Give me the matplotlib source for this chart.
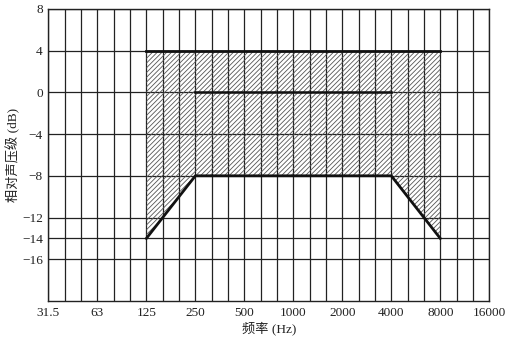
import numpy as np
import matplotlib
matplotlib.use('agg')
import matplotlib.pyplot as plt

plt.rcParams['font.family'] = ['Liberation Serif', 'Noto Sans CJK SC', 'DejaVu Sans']
plt.rcParams['hatch.linewidth'] = 0.6
plt.rcParams['axes.unicode_minus'] = True

# octave band labels (Hz)
freq_labels = ['31.5', '63', '125', '250', '500', '1000', '2000', '4000', '8000', '16000']
db_ticks = [8, 4, 0, -4, -8, -12, -14, -16]

# tolerance band, in octave index (0 = 31.5 Hz)
upper_oct = [2, 8]
upper_db = [4, 4]
lower_oct = [2, 3, 7, 8]
lower_db = [-14, -8, -8, -14]
ref_oct = [3, 7]
ref_db = [0, 0]

fig = plt.figure(figsize=(5.15, 3.39), dpi=100)
ax = fig.add_axes([0.094, 0.112, 0.856, 0.862])

# third-octave grid
for v in np.arange(0, 9 + 1e-9, 1 / 3):
    ax.axvline(v, color='#222222', lw=0.9, zorder=1)
for h in db_ticks:
    ax.axhline(h, color='#222222', lw=0.9, zorder=1)

xs = np.linspace(2, 8, 200)
lo = np.interp(xs, lower_oct, lower_db)
up = np.interp(xs, upper_oct, upper_db)
ax.fill_between(xs, lo, up, facecolor='none', edgecolor='#555555', hatch='///////', lw=0, zorder=2)

ax.plot(upper_oct, upper_db, color='#111111', lw=2.0, zorder=3)
ax.plot(lower_oct, lower_db, color='#111111', lw=2.0, zorder=3)
ax.plot(ref_oct, ref_db, color='#111111', lw=1.8, zorder=3)

ax.set_xlim(0, 9)
ax.set_ylim(-20, 8)
ax.set_xticks(range(len(freq_labels)))
ax.set_xticklabels(freq_labels)
ax.set_yticks(db_ticks)
ax.set_yticklabels([str(t).replace('-', '\u2212') for t in db_ticks])
ax.tick_params(length=0, labelsize=9.5, pad=4, colors='#222222')
for s in ax.spines.values():
    s.set_linewidth(1.0)
    s.set_color('#222222')

ax.set_xlabel('频率 (Hz)', fontsize=9.5, labelpad=2, color='#222222')
ax.set_ylabel('相对声压级 (dB)', fontsize=9.5, labelpad=1, color='#222222')

fig.savefig('out.png', dpi=100)
